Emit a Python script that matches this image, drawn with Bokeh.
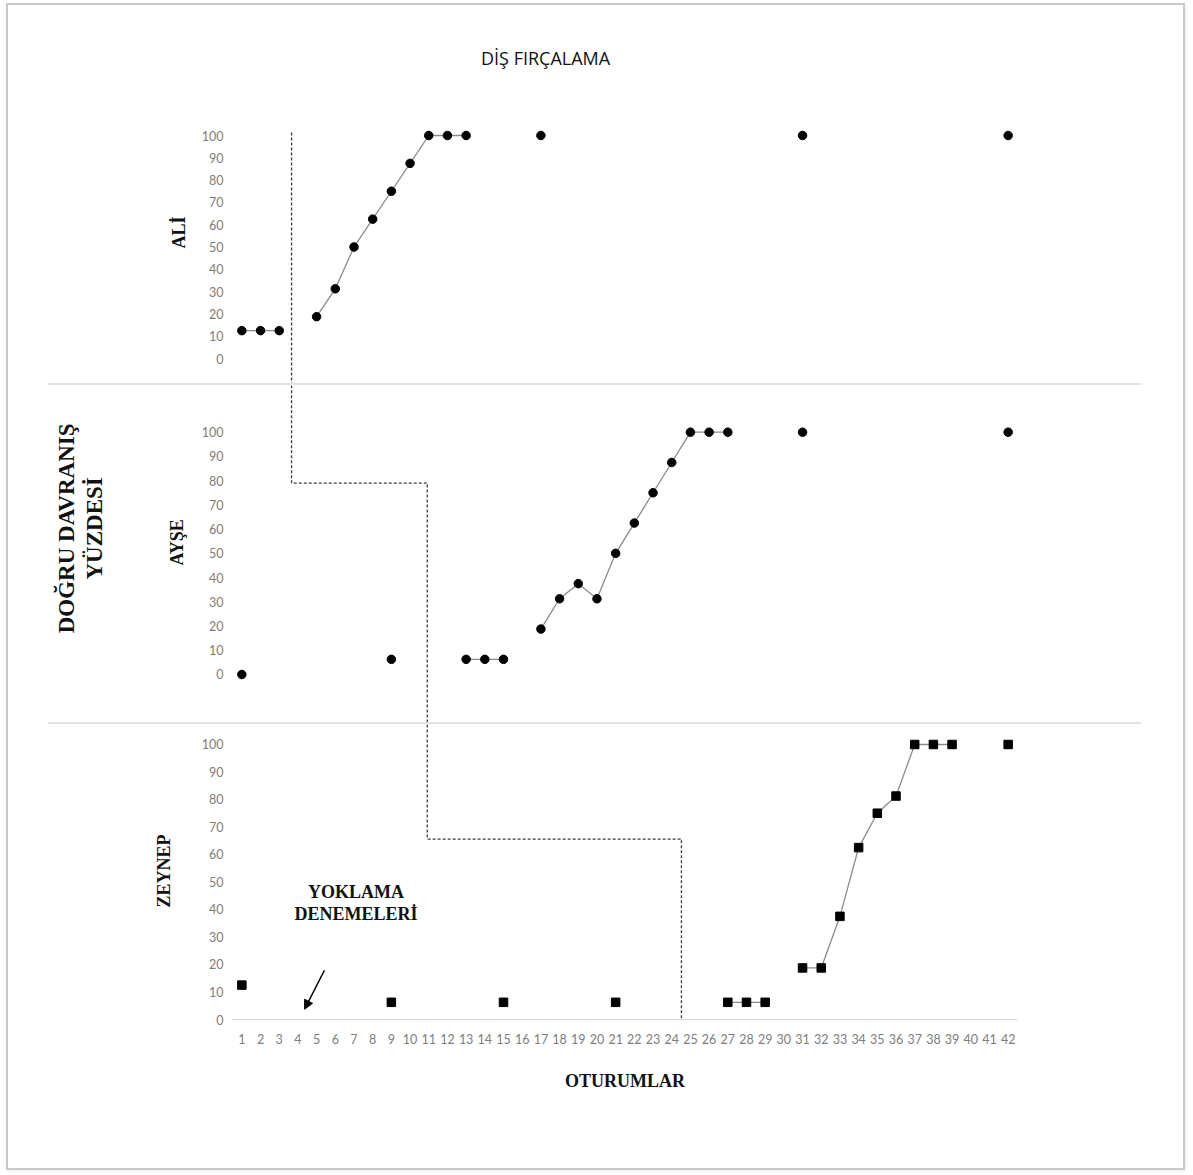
import math
from bokeh.plotting import figure
from bokeh.layouts import column, row
from bokeh.models import Range1d, FixedTicker, Label, Arrow, NormalHead, Spacer, Div
from bokeh.embed import file_html
from bokeh.resources import INLINE

# ---------------- data ----------------
sessions = list(range(1, 43))
y_ticks = list(range(0, 101, 10))

ali_sessions = [1, 2, 3, 5, 6, 7, 8, 9, 10, 11, 12, 13, 17, 31, 42]
ali_values = [12.5, 12.5, 12.5, 18.75, 31.25, 50, 62.5, 75, 87.5, 100, 100, 100, 100, 100, 100]

ayse_sessions = [1, 9, 13, 14, 15, 17, 18, 19, 20, 21, 22, 23, 24, 25, 26, 27, 31, 42]
ayse_values = [0, 6.25, 6.25, 6.25, 6.25, 18.75, 31.25, 37.5, 31.25, 50, 62.5, 75, 87.5, 100, 100, 100, 100, 100]

zeynep_sessions = [1, 9, 15, 21, 27, 28, 29, 31, 32, 33, 34, 35, 36, 37, 38, 39, 42]
zeynep_values = [12.5, 6.25, 6.25, 6.25, 6.25, 6.25, 6.25, 18.75, 18.75, 37.5, 62.5, 75, 81.25, 100, 100, 100, 100]

# phase-change (dashed) line: session positions and levels
phase_x = [3.66, 10.92, 24.52]
phase_level_ayse = 79
phase_level_zeynep = 65.6

title_text = "DİŞ FIRÇALAMA"
names = ["ALİ", "AYŞE", "ZEYNEP"]
y_title = "DOĞRU DAVRANIŞ\nYÜZDESİ"
x_title = "OTURUMLAR"
probe_text = "YOKLAMA\nDENEMELERİ"


def full_series(xs, ys):
    d = dict(zip(xs, ys))
    return [d.get(s, float("nan")) for s in sessions]


# ---------------- style / geometry ----------------
TICK_FONT = "Lato"
TICK_SIZE = "12.5px"
TICK_COLOR = "#7d7d7d"
SERIF = "Liberation Serif"
LINE_COLOR = "#8a8a8a"
DASH_COLOR = "#3c3c3c"

LEFT_W = 188          # strip holding the rotated names
PANEL_W = 987
PANEL_BL = 36
PANEL_BR = 166

xr = Range1d(0.5, 42.5)
px_per_unit = 785 / 42.0
left_xr = Range1d(0.5 - (LEFT_W + PANEL_BL) / px_per_unit, 0.5 - PANEL_BL / px_per_unit)


def panel(height, yr, bottom, show_x):
    p = figure(width=PANEL_W, height=height, x_range=xr, y_range=yr,
               output_backend="svg", toolbar_location=None,
               min_border_left=PANEL_BL, min_border_right=PANEL_BR,
               min_border_top=0, min_border_bottom=bottom,
               x_axis_location="below" if show_x else None,
               outline_line_color=None, background_fill_color="white",
               border_fill_color="white")
    p.grid.visible = False
    ya = p.yaxis[0]
    ya.ticker = FixedTicker(ticks=y_ticks)
    ya.axis_line_color = None
    ya.major_tick_line_color = None
    ya.minor_tick_line_color = None
    ya.major_tick_out = 0
    ya.major_tick_in = 0
    ya.major_label_standoff = 9
    ya.major_label_text_font = TICK_FONT
    ya.major_label_text_font_size = TICK_SIZE
    ya.major_label_text_color = TICK_COLOR
    if show_x:
        xa = p.xaxis[0]
        xa.ticker = FixedTicker(ticks=sessions)
        xa.axis_line_color = "#d9d9d9"
        xa.axis_line_width = 1
        xa.major_tick_line_color = None
        xa.minor_tick_line_color = None
        xa.major_tick_out = 0
        xa.major_tick_in = 0
        xa.major_label_standoff = 14
        xa.major_label_text_font = TICK_FONT
        xa.major_label_text_font_size = TICK_SIZE
        xa.major_label_text_color = TICK_COLOR
        xa.axis_label = x_title
        xa.axis_label_text_font = SERIF
        xa.axis_label_text_font_style = "bold"
        xa.axis_label_text_font_size = "18px"
        xa.axis_label_text_color = "#111111"
        xa.axis_label_standoff = 24
    return p


def left_strip(height, yr, bottom):
    s = figure(width=LEFT_W, height=height, x_range=left_xr, y_range=yr,
               output_backend="svg", toolbar_location=None,
               min_border_left=0, min_border_right=0, min_border_top=0, min_border_bottom=bottom,
               x_axis_location=None, y_axis_location=None,
               outline_line_color=None, background_fill_color="white", border_fill_color="white")
    s.grid.visible = False
    return s


def name_label(p, text, x, y):
    p.add_layout(Label(x=x, y=y, text=text, angle=math.pi / 2,
                       text_align="center", text_baseline="middle",
                       text_font=SERIF, text_font_style="bold",
                       text_font_size="18px", text_color="#111111"))


def separator():
    line = Div(text="", width=1093, height=2, margin=(0, 0, 0, 0),
               styles={"background-color": "#e3e3e3"})
    return row(Spacer(width=40, height=2, margin=(0, 0, 0, 0)), line, margin=(0, 0, 0, 0))


# ---------------- title strip ----------------
top = figure(width=LEFT_W + PANEL_W, height=123,
             x_range=Range1d(left_xr.start, 42.5 + PANEL_BR / px_per_unit), y_range=Range1d(0, 123),
             output_backend="svg", toolbar_location=None,
             min_border_left=0, min_border_right=0, min_border_top=0, min_border_bottom=0,
             x_axis_location=None, y_axis_location=None,
             outline_line_color=None, background_fill_color="white", border_fill_color="white")
top.grid.visible = False
top.add_layout(Label(x=17.25, y=71, text=title_text, text_align="center", text_baseline="middle",
                     text_font="Liberation Sans Narrow, Open Sans", text_font_size="18px",
                     text_color="#111111"))

# ---------------- panel 1: ALİ ----------------
yr1 = Range1d(-11.21, 103.14)
p1 = panel(255, yr1, 0, False)
p1.line(sessions, full_series(ali_sessions, ali_values), line_color=LINE_COLOR, line_width=1.3)
p1.scatter(ali_sessions, ali_values, marker="circle", size=8.5, fill_color="black", line_color="black")
p1.line([phase_x[0], phase_x[0]], [101.3, -40], line_color=DASH_COLOR, line_width=1.3, line_dash="3 2")
l1 = left_strip(255, yr1, 0)
name_label(l1, names[0], -2.36, 56.5)

# ---------------- panel 2: AYŞE ----------------
yr2 = Range1d(-19.81, 119.27)
p2 = panel(337, yr2, 0, False)
p2.line(sessions, full_series(ayse_sessions, ayse_values), line_color=LINE_COLOR, line_width=1.3)
p2.scatter(ayse_sessions, ayse_values, marker="circle", size=8.5, fill_color="black", line_color="black")
p2.line([phase_x[0], phase_x[0], phase_x[1], phase_x[1]],
        [140, phase_level_ayse, phase_level_ayse, -40],
        line_color=DASH_COLOR, line_width=1.3, line_dash="3 2")
l2 = left_strip(337, yr2, 0)
name_label(l2, names[1], -2.46, 54.5)
l2.add_layout(Label(x=-7.63, y=60.3, text=y_title, angle=math.pi / 2,
                    text_align="center", text_baseline="middle",
                    text_font=SERIF, text_font_style="bold", text_font_size="23px",
                    text_line_height=1.15, text_color="#111111"))

# ---------------- panel 3: ZEYNEP ----------------
yr3 = Range1d(0, 107.27)
p3 = panel(444, yr3, 149, True)
p3.line(sessions, full_series(zeynep_sessions, zeynep_values), line_color=LINE_COLOR, line_width=1.3)
p3.scatter(zeynep_sessions, zeynep_values, marker="square", size=8.5, fill_color="black", line_color="black")
p3.line([phase_x[1], phase_x[1], phase_x[2], phase_x[2]],
        [140, phase_level_zeynep, phase_level_zeynep, -5],
        line_color=DASH_COLOR, line_width=1.3, line_dash="3 2")
p3.add_layout(Label(x=7.11, y=42.3, text=probe_text, text_align="center", text_baseline="middle",
                    text_font=SERIF, text_font_style="bold", text_font_size="18px",
                    text_line_height=1.1, text_color="#111111"))
p3.add_layout(Arrow(end=NormalHead(size=9, fill_color="black", line_color="black"),
                    x_start=5.42, y_start=17.9, x_end=4.35, y_end=3.7,
                    line_color="black", line_width=1.5))
l3 = left_strip(444, yr3, 149)
name_label(l3, names[2], -3.17, 54.0)

layout = column(top, row(l1, p1), separator(), row(l2, p2), separator(), row(l3, p3),
                margin=(5, 0, 0, 8),
                styles={"outline": "2px solid #c9c9c9",
                        "box-shadow": "1px 1px 4px rgba(0,0,0,0.25)"})

open("out.html", "w").write(file_html(layout, INLINE))
